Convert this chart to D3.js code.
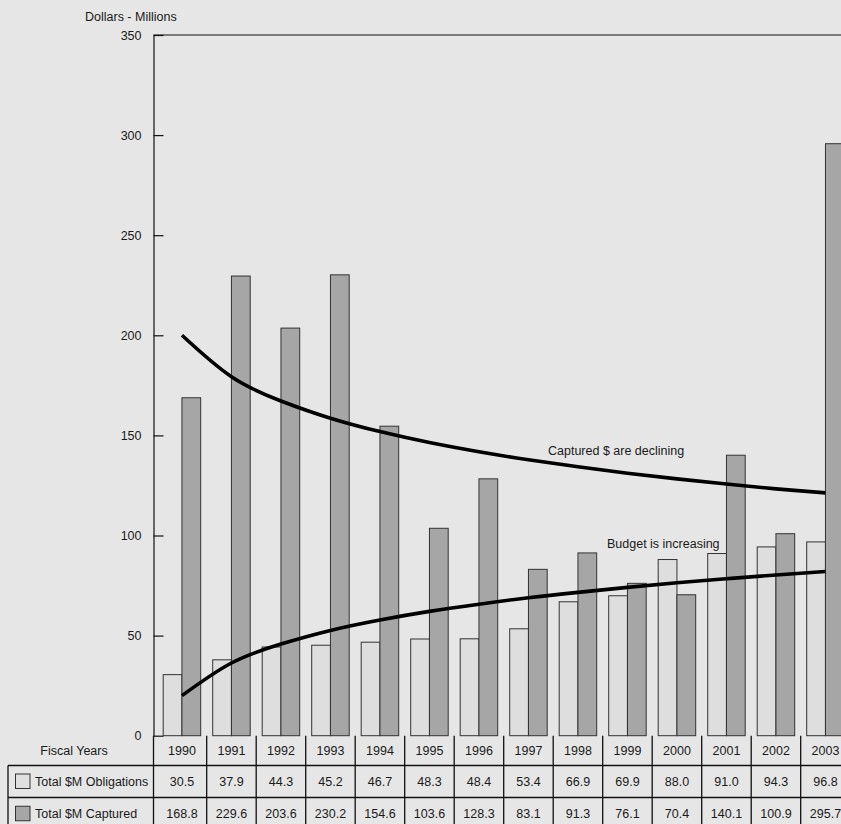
<!DOCTYPE html>
<html>
<head>
<meta charset="utf-8">
<script src="https://cdn.jsdelivr.net/npm/d3@7"></script>
<style>
  html, body { margin: 0; padding: 0; background: #e6e6e6; overflow: hidden; }
  svg { display: block; font-family: "Liberation Sans", Arial, sans-serif; }
  text { fill: #1a1a1a; font-size: 12.5px; }
</style>
</head>
<body>
<script>
// fiscal years and the two series (dollars, millions)
const years = ['1990','1991','1992','1993','1994','1995','1996','1997','1998','1999','2000','2001','2002','2003'];
const obligations = [30.5, 37.9, 44.3, 45.2, 46.7, 48.3, 48.4, 53.4, 66.9, 69.9, 88.0, 91.0, 94.3, 96.8];
const captured = [168.8, 229.6, 203.6, 230.2, 154.6, 103.6, 128.3, 83.1, 91.3, 76.1, 70.4, 140.1, 100.9, 295.7];
// trend curves, one value per year
const capturedTrend = [200, 179.3, 167.2, 158.6, 151.9, 146.4, 141.8, 137.8, 134.3, 131.1, 128.3, 125.7, 123.3, 121.3];
const budgetTrend = [20, 36.3, 45.8, 52.6, 57.8, 62.1, 65.7, 68.9, 71.6, 74.1, 76.4, 78.4, 80.3, 82.0];
const yTicks = [0, 50, 100, 150, 200, 250, 300, 350];

const width = 841, height = 824;
const axisX = 153.5;

const svg = d3.select('body').append('svg')
	.attr('width', width)
	.attr('height', height);

const x = d3.scaleBand()
	.domain(years)
	.range([157.2, 157.2 + 49.5 * years.length])
	.padding(0);

const xs = d3.scaleBand()
	.domain(['obl', 'cap'])
	.range([0, x.bandwidth()])
	.paddingInner(0)
	.paddingOuter(0.32);

const y = d3.scaleLinear()
	.domain([0, 350])
	.range([735.7, 35]);

// axis title
svg.append('text')
	.attr('x', 85)
	.attr('y', 21)
	.text('Dollars - Millions');

// top border of plot
svg.append('line')
	.attr('x1', axisX).attr('x2', width)
	.attr('y1', y(350)).attr('y2', y(350))
	.attr('stroke', '#111').attr('stroke-width', 1.2);

const yAxis = svg.append('g')
	.attr('transform', `translate(${axisX},0)`)
	.call(d3.axisLeft(y).tickValues(yTicks).tickSizeInner(-10).tickSizeOuter(0).tickPadding(12));
yAxis.select('.domain').attr('stroke', '#111').attr('stroke-width', 1.2);
yAxis.selectAll('.tick line').attr('stroke', '#111').attr('stroke-width', 1.2);
yAxis.selectAll('.tick text').attr('font-size', 12.5).attr('font-family', '"Liberation Sans", Arial, sans-serif').attr('fill', '#1a1a1a');

// bars
const groups = svg.append('g').selectAll('g')
	.data(years)
	.join('g')
	.attr('transform', d => `translate(${x(d)},0)`);

groups.append('rect')
	.attr('x', xs('obl'))
	.attr('width', xs.bandwidth())
	.attr('y', (d, i) => y(obligations[i]))
	.attr('height', (d, i) => y(0) - y(obligations[i]))
	.attr('fill', '#dedede')
	.attr('stroke', '#333')
	.attr('stroke-width', 1);

groups.append('rect')
	.attr('x', xs('cap'))
	.attr('width', xs.bandwidth())
	.attr('y', (d, i) => y(captured[i]))
	.attr('height', (d, i) => y(0) - y(captured[i]))
	.attr('fill', '#a6a6a6')
	.attr('stroke', '#333')
	.attr('stroke-width', 1);

// trend lines
const trend = d3.line()
	.x((d, i) => x(years[i]) + x.bandwidth() / 2)
	.y(d => y(d))
	.curve(d3.curveNatural);

[capturedTrend, budgetTrend].forEach(t => {
	svg.append('path')
		.attr('d', trend(t))
		.attr('fill', 'none')
		.attr('stroke', '#000')
		.attr('stroke-width', 3.6)
		.attr('stroke-linecap', 'butt');
});

svg.append('text').attr('x', 548).attr('y', 455).text('Captured $ are declining');
svg.append('text').attr('x', 607).attr('y', 548).text('Budget is increasing');

// data table
const rowTop = [735.7, 765.5, 797.5, 830];
const table = svg.append('g');

// horizontal rules
[rowTop[1], rowTop[2], rowTop[3]].forEach(yy => {
	table.append('line')
		.attr('x1', 8).attr('x2', width)
		.attr('y1', yy).attr('y2', yy)
		.attr('stroke', '#111').attr('stroke-width', 1.3);
});
// left border of label column
table.append('line')
	.attr('x1', 8).attr('x2', 8)
	.attr('y1', rowTop[1]).attr('y2', rowTop[3])
	.attr('stroke', '#111').attr('stroke-width', 1.3);
// column rules
const colEdges = [axisX].concat(years.map(d => x(d) + x.bandwidth()));
table.selectAll('line.col')
	.data(colEdges)
	.join('line')
	.attr('class', 'col')
	.attr('x1', d => d).attr('x2', d => d)
	.attr('y1', rowTop[0]).attr('y2', rowTop[3])
	.attr('stroke', '#111').attr('stroke-width', 1.3);

const rowMid = i => (rowTop[i] + rowTop[i + 1]) / 2 + 4.5;

table.append('text')
	.attr('x', 74).attr('y', rowMid(0))
	.attr('text-anchor', 'middle')
	.text('Fiscal Years');

const rows = [
	{ label: 'Total $M Obligations', values: obligations, fill: '#e0e0e0' },
	{ label: 'Total $M Captured', values: captured, fill: '#a6a6a6' }
];

rows.forEach((r, ri) => {
	const cy = (rowTop[ri + 1] + rowTop[ri + 2]) / 2;
	table.append('rect')
		.attr('x', 15.5).attr('y', cy - 7.5)
		.attr('width', 14.5).attr('height', 14.5)
		.attr('fill', r.fill)
		.attr('stroke', '#333').attr('stroke-width', 1);
	table.append('text')
		.attr('x', 35).attr('y', rowMid(ri + 1))
		.text(r.label);
	table.selectAll(null)
		.data(r.values)
		.join('text')
		.attr('x', (d, i) => x(years[i]) + x.bandwidth() / 2)
		.attr('y', rowMid(ri + 1))
		.attr('text-anchor', 'middle')
		.text(d => d.toFixed(1));
});

table.selectAll(null)
	.data(years)
	.join('text')
	.attr('x', d => x(d) + x.bandwidth() / 2)
	.attr('y', rowMid(0))
	.attr('text-anchor', 'middle')
	.text(d => d);
</script>
</body>
</html>
